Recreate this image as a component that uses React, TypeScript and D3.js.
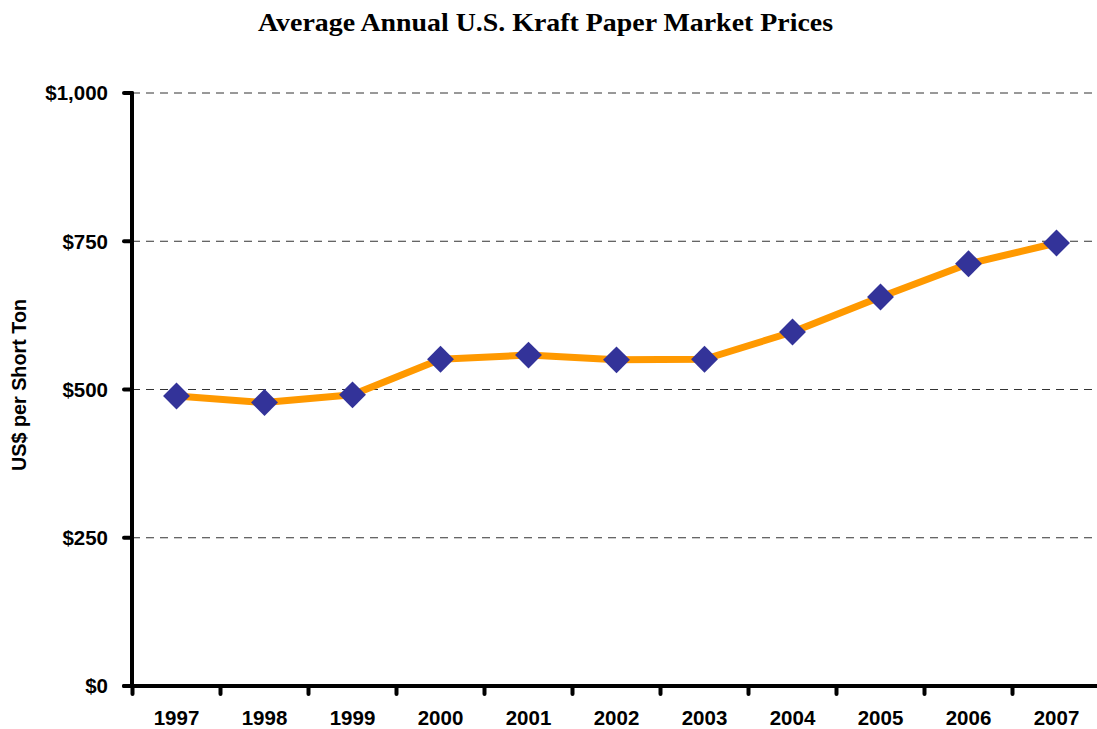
import React from "react";
import * as d3 from "d3";

const years = ["1997", "1998", "1999", "2000", "2001", "2002", "2003", "2004", "2005", "2006", "2007"];
const prices = [489, 478, 491, 551, 558, 550, 551, 597, 656, 712, 747];
const yTicks = [0, 250, 500, 750, 1000];
const title = "Average Annual U.S. Kraft Paper Market Prices";
const yLabel = "US$ per Short Ton";

const W = 1097;
const H = 729;

export default function App() {
  const x = d3.scaleBand<string>().domain(years).range([132.5, 1100.5]).padding(0);
  const y = d3.scaleLinear().domain([0, 1000]).range([686, 93]);
  const cx = (d: string) => (x(d) as number) + x.bandwidth() / 2;
  const line = d3
    .line<number>()
    .x((_, i) => cx(years[i]))
    .y((v) => y(v));
  const fmt = (v: number) => "$" + d3.format(",")(v);
  const axisX = 132;
  const diamond = d3.symbol().type(d3.symbolSquare).size(19 * 19)();
  const boundaries = years.map((yr) => x(yr) as number);

  return (
    <svg
      width={W}
      height={H}
      style={{ position: "absolute", left: 0, top: 0, display: "block", background: "#fff" }}
    >
      <text
        x={258}
        y={31}
        textLength={575}
        lengthAdjust="spacingAndGlyphs"
        fontFamily="'Liberation Serif', serif"
        fontWeight="bold"
        fontSize={26}
        fill="#000"
      >
        {title}
      </text>

      {yTicks
        .filter((t) => t > 0)
        .map((t) => (
          <line
            key={"g" + t}
            x1={axisX}
            x2={W}
            y1={y(t)}
            y2={y(t)}
            stroke="#333"
            strokeWidth={1}
            strokeDasharray="8,6"
          />
        ))}

      {/* Y axis */}
      <line x1={axisX} x2={axisX} y1={y(1000)} y2={y(0)} stroke="#000" strokeWidth={4} strokeLinecap="round" />
      {yTicks.map((t) => (
        <g key={"yt" + t}>
          <line x1={axisX - 8} x2={axisX} y1={y(t)} y2={y(t)} stroke="#000" strokeWidth={4} strokeLinecap="round" />
          <text
            x={108}
            y={y(t)}
            dy="0.36em"
            textAnchor="end"
            fontFamily="'Liberation Sans', Arial, sans-serif"
            fontWeight="bold"
            fontSize={20.5}
            fill="#000"
          >
            {fmt(t)}
          </text>
        </g>
      ))}

      {/* X axis */}
      <line x1={axisX - 8} x2={W} y1={y(0)} y2={y(0)} stroke="#000" strokeWidth={4} strokeLinecap="round" />
      {boundaries.map((b, i) => (
        <line key={"xt" + i} x1={b} x2={b} y1={y(0)} y2={y(0) + 8} stroke="#000" strokeWidth={4} strokeLinecap="round" />
      ))}
      {years.map((yr) => (
        <text
          key={"xl" + yr}
          x={cx(yr)}
          y={725}
          textAnchor="middle"
          fontFamily="'Liberation Sans', Arial, sans-serif"
          fontWeight="bold"
          fontSize={20.5}
          fill="#000"
        >
          {yr}
        </text>
      ))}

      <text
        transform={`translate(26,${385}) rotate(-90)`}
        textAnchor="middle"
        fontFamily="'Liberation Sans', Arial, sans-serif"
        fontWeight="bold"
        fontSize={19.8}
        fill="#000"
      >
        {yLabel}
      </text>

      <path d={line(prices) as string} fill="none" stroke="#FF9900" strokeWidth={7} strokeLinejoin="round" />
      {prices.map((v, i) => (
        <path
          key={"pt" + i}
          d={diamond as string}
          transform={`translate(${cx(years[i])},${y(v)}) rotate(45)`}
          fill="#333399"
        />
      ))}
    </svg>
  );
}
